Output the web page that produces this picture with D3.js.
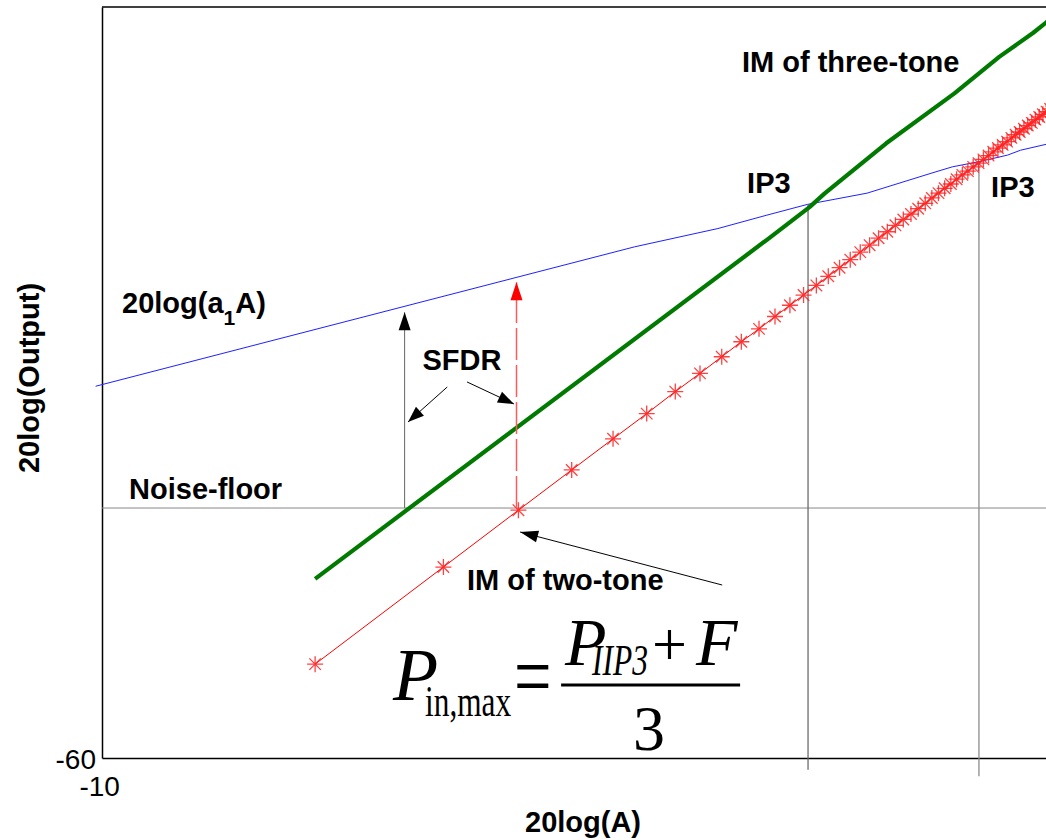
<!DOCTYPE html>
<html>
<head>
<meta charset="utf-8">
<script src="https://cdn.jsdelivr.net/npm/d3@7"></script>
<style>
  html, body { margin: 0; padding: 0; background: #fff; }
  svg { display: block; }
  .lbl { font-family: "Liberation Sans", Arial, sans-serif; font-weight: bold; font-size: 29px; fill: #000; }
  .tick text { font-family: "Liberation Sans", Arial, sans-serif; font-size: 28px; fill: #000; }
  .eq { font-family: "Liberation Serif", "Times New Roman", serif; fill: #000; }
</style>
</head>
<body>
<svg id="chart" width="1046" height="840"></svg>
<script>
// Input level 20log(A) in dB and the fundamental output 20log(a1*A)
const fundX = [-10.3, 15.0, 18.9, 21.2, 23.1, 25.9, 28.9, 29.9, 31.2, 32.5, 33.1, 34.3, 35.0];
const fundY = [9.3, 35.3, 38.7, 41.2, 43.2, 45.3, 49.0, 50.2, 51.2, 52.4, 53.3, 54.4, 55.1];

// Third-order intermodulation of the three-tone test
const im3X = [0, 21.2, 23.2, 23.9, 26.8, 30.0, 32.1, 33.7, 34.3, 35.0];
const im3Y = [-26.6, 36.6, 42.7, 45.2, 54.6, 63.9, 70.7, 75.2, 77.1, 79.0];

// Third-order intermodulation of the two-tone test (one sample per amplitude step)
const im2X = [0, 6.02, 9.54, 12.04, 13.98, 15.56, 16.90, 18.06, 19.08, 20.00,
  20.83, 21.58, 22.28, 22.92, 23.52, 24.08, 24.61, 25.11, 25.58, 26.02,
  26.44, 26.85, 27.23, 27.60, 27.96, 28.30, 28.63, 28.94, 29.25, 29.54,
  29.83, 30.10, 30.37, 30.63, 30.88, 31.13, 31.36, 31.60, 31.82, 32.04,
  32.26, 32.47, 32.67, 32.87, 33.06, 33.26, 33.44, 33.63, 33.80, 33.98,
  34.15, 34.32, 34.49, 34.65, 34.81, 34.96];
const im2Y = [-42.5, -24.4, -13.8, -6.3, -0.5, 4.2, 8.3, 11.7, 14.8, 17.6,
  20.0, 22.3, 24.4, 26.3, 28.1, 29.8, 31.4, 32.9, 34.3, 35.6,
  36.9, 38.1, 39.3, 40.4, 41.4, 42.4, 43.4, 44.4, 45.3, 46.2,
  47.0, 47.9, 48.7, 49.4, 50.2, 50.9, 51.6, 52.3, 53.0, 53.7,
  54.3, 54.9, 55.6, 56.2, 56.7, 57.3, 57.9, 58.4, 59.0, 59.5,
  60.0, 60.5, 61.0, 61.5, 62.0, 62.4];

// Noise floor and the two intercept points
const noiseFloor = -13.4;
const ip3Three = { x: 23.13, y: 43.2, foot: -62.2 };
const ip3Two = { x: 31.15, y: 51.2, foot: -63.4 };

// Spurious-free dynamic range spans for both tests
const sfdrThree = { x: 4.2, top: 23.1 };
const sfdrTwo = { x: 9.45, top: 28.7 };

// Axis ticks
const xTicks = [-10];
const yTicks = [-60];

const svg = d3.select("#chart");
const x = d3.scaleLinear().domain([-10, 35]).range([102, 1061]);
const y = d3.scaleLinear().domain([-60, 80]).range([758, 7]);

// Frame
svg.append("line").attr("x1", x(-10)).attr("x2", x(35)).attr("y1", y(80)).attr("y2", y(80))
  .attr("stroke", "#000").attr("stroke-width", 1.5);

const gx = svg.append("g").attr("transform", `translate(0,${y(-60)})`)
  .call(d3.axisBottom(x).tickValues(xTicks).tickSize(0).tickPadding(18).tickFormat(d => String(d)));
const gy = svg.append("g").attr("transform", `translate(${x(-10)},0)`)
  .call(d3.axisLeft(y).tickValues(yTicks).tickSize(0).tickPadding(6).tickFormat(d => String(d)));
[gx, gy].forEach(g => {
  g.select(".domain").attr("stroke", "#000").attr("stroke-width", 1.5);
  g.selectAll(".tick text").attr("font-family", null).attr("font-size", null);
});
gx.selectAll(".tick text").attr("dx", "-0.1em");
gy.selectAll(".tick text").attr("dy", "0.38em");

// Noise floor
svg.append("line").attr("x1", x(-10)).attr("x2", x(35)).attr("y1", y(noiseFloor)).attr("y2", y(noiseFloor))
  .attr("stroke", "#888").attr("stroke-width", 1);

// IP3 drop lines
svg.append("line").attr("x1", x(ip3Three.x)).attr("x2", x(ip3Three.x))
  .attr("y1", y(ip3Three.y)).attr("y2", y(ip3Three.foot))
  .attr("stroke", "#606060").attr("stroke-width", 1.2);
svg.append("line").attr("x1", x(ip3Two.x)).attr("x2", x(ip3Two.x))
  .attr("y1", y(ip3Two.y)).attr("y2", y(ip3Two.foot))
  .attr("stroke", "#8c8c8c").attr("stroke-width", 1.3);

const line = d3.line().x(d => x(d[0])).y(d => y(d[1]));

// Fundamental
svg.append("path").datum(d3.zip(fundX, fundY)).attr("d", line)
  .attr("fill", "none").attr("stroke", "#2020ff").attr("stroke-width", 1);

// Two-tone IM with asterisk markers
svg.append("path").datum(d3.zip(im2X, im2Y)).attr("d", line)
  .attr("fill", "none").attr("stroke", "#ff0000").attr("stroke-width", 1);
const asterisk = {
  draw(ctx, size) {
    const r = Math.sqrt(size) / 2, q = r * 0.72;
    ctx.moveTo(-r, 0); ctx.lineTo(r, 0);
    ctx.moveTo(0, -r); ctx.lineTo(0, r);
    ctx.moveTo(-q, -q); ctx.lineTo(q, q);
    ctx.moveTo(-q, q); ctx.lineTo(q, -q);
  }
};
svg.append("g").selectAll("path").data(d3.zip(im2X, im2Y)).join("path")
  .attr("transform", d => `translate(${x(d[0])},${y(d[1])})`)
  .attr("d", d3.symbol().type(asterisk).size(256))
  .attr("fill", "none").attr("stroke", "#ff2020").attr("stroke-opacity", 0.85).attr("stroke-width", 1.3);

// Three-tone IM
svg.append("path").datum(d3.zip(im3X, im3Y)).attr("d", line)
  .attr("fill", "none").attr("stroke", "#007a00").attr("stroke-width", 4.2)
  .attr("stroke-linejoin", "round");

// Arrow helper: shaft plus filled head at (x2,y2)
function arrow(x1, y1, x2, y2, opt) {
  const o = Object.assign({ shaft: "#000", head: "#000", sw: 1, len: 18, half: 6, dash: null }, opt);
  svg.append("line").attr("x1", x1).attr("y1", y1).attr("x2", x2).attr("y2", y2)
    .attr("stroke", o.shaft).attr("stroke-width", o.sw).attr("stroke-dasharray", o.dash);
  const a = Math.atan2(y2 - y1, x2 - x1);
  const bx = x2 - o.len * Math.cos(a), by = y2 - o.len * Math.sin(a);
  const nx = -Math.sin(a) * o.half, ny = Math.cos(a) * o.half;
  svg.append("path").attr("d", `M${x2},${y2}L${bx + nx},${by + ny}L${bx - nx},${by - ny}Z`).attr("fill", o.head);
}

arrow(x(sfdrThree.x), y(noiseFloor), x(sfdrThree.x), y(sfdrThree.top), { shaft: "#666" });
arrow(x(sfdrTwo.x), y(noiseFloor), x(sfdrTwo.x), y(sfdrTwo.top), { shaft: "#ff5a5a", head: "#ff0000", sw: 1.5, dash: "32,5" });
arrow(x(6.2), y(9.16), x(4.36), y(2.64), { len: 16 });
arrow(x(7.13), y(10.1), x(9.33), y(6.0), { len: 16 });
arrow(x(19.1), y(-27.75), x(9.62), y(-17.87), { len: 18 });

// Labels
function label(t, xv, yv, anchor) {
  return svg.append("text").attr("class", "lbl").attr("x", x(xv)).attr("y", y(yv))
    .attr("text-anchor", anchor || "start").text(t);
}
label("IM of three-tone", 20.03, 67.9);
label("IP3", 20.27, 45.3);
label("IP3", 31.72, 44.6);
label("Noise-floor", -8.73, -11.7);
label("SFDR", 6.89, 12.3, "middle");
label("IM of two-tone", 7.13, -28.7);

const fl = svg.append("text").attr("class", "lbl").attr("x", x(-9.06)).attr("y", y(22.96));
fl.append("tspan").text("20log(a");
fl.append("tspan").attr("font-size", "21px").attr("dy", 12).text("1");
fl.append("tspan").attr("dy", -12).text("A)");

// Axis titles
svg.append("text").attr("class", "lbl").attr("text-anchor", "middle")
  .attr("x", 583).attr("y", 832).text("20log(A)");
svg.append("text").attr("class", "lbl").attr("text-anchor", "middle")
  .attr("transform", "translate(39,378) rotate(-90)").text("20log(Output)");

// Maximum input power expression
const eq = svg.append("g").attr("class", "eq")
  .attr("transform", `translate(${x(3.66)},${y(-49.19)})`);
eq.append("text").attr("x", 0).attr("y", 0).attr("font-size", 74).attr("font-style", "italic").text("P");
eq.append("text").attr("x", 32).attr("y", 16).attr("font-size", 44)
  .attr("textLength", 86).attr("lengthAdjust", "spacingAndGlyphs").text("in,max");
eq.append("text").attr("transform", "translate(121,-16) scale(0.74,1)").attr("y", 23)
  .attr("font-size", 90).text("=");
eq.append("line").attr("x1", 168).attr("x2", 347).attr("y1", -15).attr("y2", -15)
  .attr("stroke", "#000").attr("stroke-width", 3);
eq.append("text").attr("x", 172).attr("y", -35).attr("font-size", 68).attr("font-style", "italic").text("P");
eq.append("text").attr("x", 199).attr("y", -25).attr("font-size", 44).attr("font-style", "italic")
  .attr("textLength", 56).attr("lengthAdjust", "spacingAndGlyphs").text("IIP3");
eq.append("text").attr("x", 259).attr("y", -35).attr("font-size", 62).text("+");
eq.append("text").attr("x", 303).attr("y", -35).attr("font-size", 68).attr("font-style", "italic").text("F");
eq.append("text").attr("x", 240).attr("y", 50).attr("font-size", 64).text("3");
</script>
</body>
</html>
